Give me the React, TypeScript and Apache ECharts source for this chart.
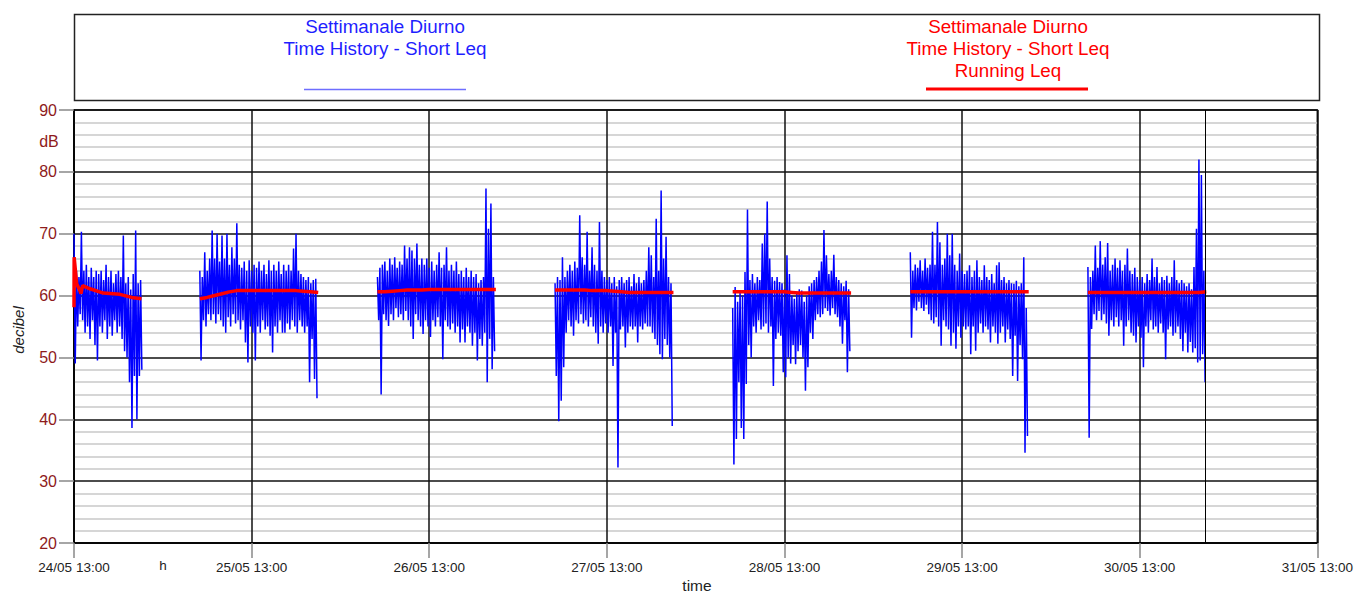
import React, { useEffect, useRef } from "react";
import * as echarts from "echarts";

// ---- data ----
const xTickLabels = [
  "24/05 13:00", "25/05 13:00", "26/05 13:00", "27/05 13:00",
  "28/05 13:00", "29/05 13:00", "30/05 13:00", "31/05 13:00",
];
// hours from 24/05 13:00 at which each daytime block starts
const dayStartHours = [0, 17, 41, 65, 89, 113, 137];
// Short Leq sample interval (hours) = 10 min
const sampleHours = 1 / 6;
// end-of-measurement marker (30/05 ~22:00)
const endMarkerHour = 152.9;

const day0Leq = [
  70, 49, 64, 55, 63, 57, 70.3, 56, 64, 54,
  65, 55, 63, 53, 64.5, 56, 63, 52, 64, 49.5,
  63.5, 55, 64, 54, 62.5, 56, 65, 53, 63, 55,
  64, 53.5, 62, 56, 63.5, 54, 64, 55, 63, 53,
  69.7, 51, 62, 50, 63, 46, 61, 38.6, 63.5, 47,
  70.5, 40, 62, 47, 62.5, 48,
];
const day1Leq = [
  64, 49.5, 63, 56, 67, 55, 64, 57, 66, 56,
  70.5, 57, 66, 55.5, 70, 57, 65.5, 56, 69.7, 55,
  66, 54, 70, 56.5, 65, 55, 67.8, 57, 66, 55.5,
  71.7, 56, 65, 54.5, 64.5, 56, 65.5, 52.4, 64, 49.2,
  65.7, 55, 64, 54, 65, 49.5, 64.5, 55, 65.5, 54,
  64, 56, 65, 54.5, 63.5, 55, 65.7, 53.5, 64, 50.8,
  65, 55, 64, 54, 65.5, 56, 63.5, 54, 65, 54,
  64, 55.5, 65, 54.5, 64, 56, 67.6, 55, 70, 54,
  64, 56, 63.5, 55, 63, 54, 62.5, 55, 63, 46,
  62, 53, 62.5, 46.5, 62.7, 43.4,
];
const day2Leq = [
  63, 56, 64.5, 44, 65, 57, 65.5, 56, 64, 55.1,
  66, 57, 65, 56, 66.2, 58, 64.5, 56.5, 65.5, 57,
  65, 56, 68.1, 57.5, 66, 56, 67.8, 55, 67.3, 53,
  66, 57, 68.4, 56, 65, 55, 66, 53.8, 65, 56,
  66, 55, 64.5, 53.3, 65.5, 56, 64, 55, 65, 56.5,
  67, 55, 64.5, 49.7, 65, 56, 67.8, 55, 64, 54.5,
  65, 55.5, 64, 54, 65.5, 55, 63.5, 52.4, 64, 54.5,
  63, 52.4, 64.5, 55, 63, 54, 64, 51.9, 63, 54,
  63.5, 49.5, 62, 53, 62.5, 51.9, 63, 54, 77.3, 46,
  70.8, 53, 74.9, 48.1, 63, 51,
];
const day3Leq = [
  62, 47, 63, 39.7, 62.5, 43, 66.2, 48.4, 63, 54,
  64, 56, 65, 55, 64, 53.5, 65.5, 56, 64.5, 55.5,
  73, 57, 66.2, 55.5, 65, 56, 70.3, 55, 64, 56.5,
  67.8, 55, 65, 54, 64, 52.2, 71.9, 55, 64, 54,
  63, 55.5, 62.5, 54, 63, 55, 62, 48.6, 63, 54,
  61.5, 32.2, 62.5, 54.5, 63, 55, 62, 51.6, 62.5, 54,
  63, 55, 61.5, 54.5, 63.5, 55, 62, 52.4, 63, 55,
  62, 54.5, 62.5, 55.5, 64, 55, 67.8, 55, 66.5, 54,
  63, 53, 72.4, 52, 64, 50.5, 77, 49.7, 66, 53,
  69.5, 52, 63, 50, 62, 38.9,
];
const day4Leq = [
  58, 32.7, 61.4, 36.8, 59, 46, 60.8, 38.6, 60, 36.8,
  63.8, 45.7, 73.9, 52, 62.5, 50, 63.5, 55, 62, 54,
  63, 56, 62.5, 54.5, 68.4, 55, 70, 55.5, 75.2, 54,
  66, 55, 63, 45.4, 62.4, 53, 63, 54, 62.2, 53.5,
  62, 47.6, 61, 46.8, 66.5, 50, 63.5, 49, 60, 52,
  59.5, 48.9, 60.5, 51, 61, 52, 60.8, 50, 59, 44.6,
  60, 48.4, 61.5, 54, 62, 53, 62.5, 56, 63, 57,
  64, 56.5, 65.5, 57, 70.6, 58, 66.5, 57.5, 63.5, 56.8,
  64, 58, 66.6, 57, 63, 56.5, 62.5, 55, 62, 52.2,
  61.5, 56, 62.4, 47.6, 61, 51,
];
const day5Leq = [
  67, 53.2, 64, 58, 65, 57.6, 64.5, 59, 65.7, 58,
  64, 57.5, 66, 58.5, 64.5, 57, 65, 56, 70.3, 55.5,
  65, 56.5, 71.9, 55, 68.6, 51.9, 65, 56, 66, 55,
  70, 54.5, 66.5, 51.9, 70, 54, 65, 51.4, 64, 55,
  66.8, 53.2, 64, 55, 63.5, 54.5, 64, 55, 64.9, 50.5,
  63, 55, 64, 51.1, 65.7, 54, 63, 55.5, 62.5, 54,
  64.9, 55, 63, 54.5, 62.5, 52.4, 63.5, 55, 62, 54,
  64.9, 52.2, 65.4, 54, 62.5, 55, 63, 52.4, 62, 54.5,
  62.5, 53, 62, 47, 61.9, 53.5, 62.4, 46.2, 61.5, 52,
  62, 49.7, 66.2, 34.6, 58, 37.3,
];
const day6Leq = [
  64.6, 37, 63, 54.6, 64, 57, 68.1, 56, 64.5, 57.5,
  68.8, 56, 65, 57, 66.2, 55.5, 68.5, 53.5, 64, 56,
  65, 55, 66, 56.5, 64.5, 55, 65.7, 56, 64, 51.9,
  65, 55, 67.6, 56, 64, 54, 63.5, 53.5, 64.5, 52.4,
  63, 55, 62.5, 53.2, 63, 48.4, 62, 55, 63.5, 54,
  62.5, 56, 66, 54.5, 63, 55, 64.6, 54, 62, 55.5,
  63, 54, 62.5, 49.7, 63.2, 54.5, 62, 55, 63, 53.5,
  65.7, 54, 62.5, 55, 62, 53, 62.5, 51, 62, 54,
  61.5, 50.8, 62, 52.5, 61, 50.8, 64.6, 51.5, 70.8, 49.2,
  82, 49.5, 79.5, 50.5, 64, 46,
];

// Running Leq: day 0 at irregular hours, other days hourly
const day0RunHours = [0, 0.02, 0.36, 0.81, 0.94, 1.17, 2.16, 3.96, 6.2, 7.78, 9.12];
const day0Run = [58.1, 66.2, 61.9, 60.8, 60.3, 61.6, 61.1, 60.4, 60.2, 59.7, 59.5];
const day1Run = [59.5, 59.7, 60.0, 60.3, 60.6, 60.8, 60.8, 60.8, 60.8, 60.8, 60.8, 60.8, 60.8, 60.8, 60.7, 60.6, 60.5];
const day2Run = [60.6, 60.6, 60.7, 60.8, 60.9, 60.9, 60.9, 61.0, 61.0, 61.0, 61.0, 61.0, 61.0, 61.0, 61.0, 61.0, 61.0];
const day3Run = [60.9, 60.9, 60.9, 60.9, 60.9, 60.8, 60.8, 60.8, 60.7, 60.6, 60.5, 60.5, 60.5, 60.5, 60.5, 60.5, 60.5];
const day4Run = [60.6, 60.6, 60.6, 60.6, 60.6, 60.6, 60.6, 60.6, 60.5, 60.4, 60.4, 60.4, 60.4, 60.4, 60.4, 60.4, 60.4];
const day5Run = [60.6, 60.6, 60.6, 60.6, 60.6, 60.6, 60.6, 60.6, 60.6, 60.6, 60.6, 60.6, 60.6, 60.6, 60.6, 60.6, 60.6];
const day6Run = [60.5, 60.5, 60.5, 60.5, 60.5, 60.5, 60.5, 60.5, 60.5, 60.5, 60.5, 60.5, 60.5, 60.5, 60.5, 60.5, 60.6];

const legendLinesBlue = ["Settimanale Diurno", "Time History - Short Leq"];
const legendLinesRed = ["Settimanale Diurno", "Time History - Short Leq", "Running Leq"];

const FONT = "'Liberation Sans', Arial, Helvetica, sans-serif";

export default function App() {
  const ref = useRef<HTMLDivElement>(null);

  useEffect(() => {
    if (!ref.current) return;
    const chart = echarts.init(ref.current, null, { renderer: "svg" });

    const blueDays = [day0Leq, day1Leq, day2Leq, day3Leq, day4Leq, day5Leq, day6Leq];
    const redHourly = [null, day1Run, day2Run, day3Run, day4Run, day5Run, day6Run];

    const series: any[] = [];
    blueDays.forEach((vals, d) => {
      const s: any = {
        type: "line",
        name: "Short Leq",
        showSymbol: false,
        symbol: "none",
        silent: true,
        z: 2,
        lineStyle: { color: "#0000FF", width: 1.5, join: "miter" },
        data: vals.map((v, i) => [dayStartHours[d] + i * sampleHours, v]),
      };
      if (d === blueDays.length - 1) {
        s.markLine = {
          symbol: "none",
          silent: true,
          label: { show: false },
          lineStyle: { color: "#000", width: 1, type: "solid" },
          data: [{ xAxis: endMarkerHour }],
        };
      }
      series.push(s);
    });
    redHourly.forEach((vals, d) => {
      const data =
        d === 0
          ? day0Run.map((v, i) => [day0RunHours[i], v])
          : (vals as number[]).map((v, i) => [dayStartHours[d] + i, v]);
      series.push({
        type: "line",
        name: "Running Leq",
        showSymbol: false,
        symbol: "none",
        silent: true,
        z: 3,
        lineStyle: { color: "#FF0000", width: 3.5 },
        data,
      });
    });

    const graphic: any[] = [
      {
        type: "rect",
        shape: { x: 74.5, y: 14.5, width: 1245, height: 86 },
        style: { fill: "#fff", stroke: "#222", lineWidth: 1.5 },
        z: 10,
      },
      ...legendLinesBlue.map((t, i) => ({
        type: "text",
        x: 385,
        y: 26 + i * 22,
        z: 11,
        style: {
          text: t,
          fill: "#1F1FFF",
          font: `18.8px ${FONT}`,
          textAlign: "center",
          textVerticalAlign: "middle",
        },
      })),
      {
        type: "line",
        shape: { x1: 304, y1: 89.5, x2: 466, y2: 89.5 },
        style: { stroke: "#6E6EFF", lineWidth: 1.5 },
        z: 11,
      },
      ...legendLinesRed.map((t, i) => ({
        type: "text",
        x: 1008,
        y: 26 + i * 22,
        z: 11,
        style: {
          text: t,
          fill: "#FF0000",
          font: `18.8px ${FONT}`,
          textAlign: "center",
          textVerticalAlign: "middle",
        },
      })),
      {
        type: "line",
        shape: { x1: 926, y1: 89, x2: 1088, y2: 89 },
        style: { stroke: "#FF0000", lineWidth: 3 },
        z: 11,
      },
      {
        type: "text",
        x: 49,
        y: 141,
        style: {
          text: "dB",
          fill: "#8E1B1B",
          font: `16px ${FONT}`,
          textAlign: "center",
          textVerticalAlign: "middle",
        },
      },
      {
        type: "text",
        x: 163,
        y: 565,
        style: {
          text: "h",
          fill: "#222",
          font: `13.5px ${FONT}`,
          textAlign: "center",
          textVerticalAlign: "middle",
        },
      },
      {
        type: "text",
        x: 697,
        y: 585,
        style: {
          text: "time",
          fill: "#222",
          font: `15.5px ${FONT}`,
          textAlign: "center",
          textVerticalAlign: "middle",
        },
      },
      {
        type: "text",
        x: 18,
        y: 330,
        rotation: Math.PI / 2,
        style: {
          text: "decibel",
          fill: "#222",
          font: `italic 15px ${FONT}`,
          textAlign: "center",
          textVerticalAlign: "middle",
        },
      },
    ];

    chart.setOption({
      animation: false,
      backgroundColor: "#fff",
      grid: {
        left: 74,
        right: 36,
        top: 110,
        bottom: 49,
        containLabel: false,
        show: true,
        borderColor: "#000",
        borderWidth: 1.5,
      },
      xAxis: {
        type: "value",
        min: 0,
        max: 168,
        interval: 24,
        axisLine: { show: true, lineStyle: { color: "#000", width: 1.5 } },
        axisTick: { show: true, length: 15, lineStyle: { color: "#888", width: 1.5 } },
        axisLabel: {
          margin: 17,
          fontSize: 13.5,
          fontFamily: FONT,
          color: "#222",
          showMinLabel: true,
          showMaxLabel: true,
          formatter: (v: number) => xTickLabels[Math.round(v / 24)] ?? "",
        },
        splitLine: { show: true, lineStyle: { color: "#111", width: 1.5 } },
      },
      yAxis: {
        type: "value",
        min: 20,
        max: 90,
        interval: 10,
        axisLine: { show: true, lineStyle: { color: "#000", width: 1.5 } },
        axisTick: { show: true, length: 15, lineStyle: { color: "#888", width: 1.5 } },
        minorTick: { show: false, splitNumber: 5 },
        minorSplitLine: { show: true, lineStyle: { color: "#c8c8c8", width: 1.5 } },
        axisLabel: {
          margin: 17,
          fontSize: 16,
          fontFamily: FONT,
          color: "#8E1B1B",
        },
        splitLine: { show: true, lineStyle: { color: "#111", width: 1.5 } },
      },
      graphic,
      series,
    });

    return () => chart.dispose();
  }, []);

  return (
    <div
      ref={ref}
      style={{ position: "absolute", left: 0, top: 0, width: 1356, height: 592, background: "#fff" }}
    />
  );
}
